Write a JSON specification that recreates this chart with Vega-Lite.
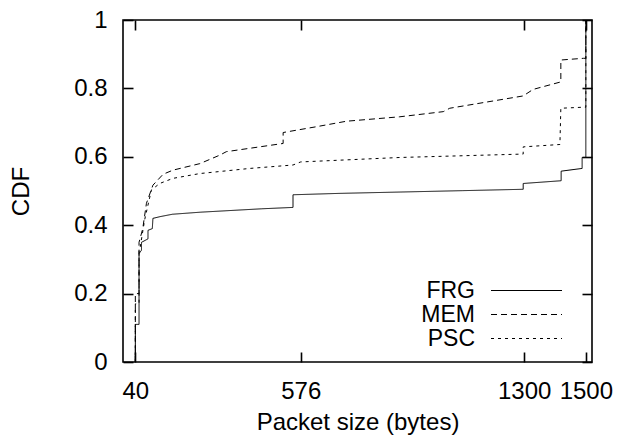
{
  "$schema": "https://vega.github.io/schema/vega-lite/v6.json",
  "width": 469,
  "height": 342,
  "autosize": "none",
  "padding": {"left": 123, "top": 20, "right": 26, "bottom": 74},
  "background": "white",
  "config": {
    "font": "Liberation Sans",
    "view": {"stroke": "#000", "strokeWidth": 1.6},
    "axis": {"domain": false, "grid": false, "tickColor": "#000", "tickWidth": 1.6, "tickSize": -10, "labelColor": "#000", "titleColor": "#000", "labelFontSize": 24, "titleFontSize": 24, "titleFontWeight": "normal", "labelFont": "Liberation Sans", "titleFont": "Liberation Sans"}
  },
  "data": {"values": [
    {"s":"FRG","i":1,"x":40,"y":0},{"s":"FRG","i":2,"x":40,"y":0.11},{"s":"FRG","i":3,"x":52,"y":0.11},{"s":"FRG","i":4,"x":52,"y":0.317},{"s":"FRG","i":5,"x":60,"y":0.327},{"s":"FRG","i":6,"x":60,"y":0.35},{"s":"FRG","i":7,"x":81,"y":0.36},{"s":"FRG","i":8,"x":81,"y":0.385},{"s":"FRG","i":9,"x":95,"y":0.39},{"s":"FRG","i":10,"x":97,"y":0.42},{"s":"FRG","i":11,"x":120,"y":0.425},{"s":"FRG","i":12,"x":160,"y":0.432},{"s":"FRG","i":13,"x":250,"y":0.438},{"s":"FRG","i":14,"x":350,"y":0.443},{"s":"FRG","i":15,"x":450,"y":0.448},{"s":"FRG","i":16,"x":551,"y":0.452},{"s":"FRG","i":17,"x":551,"y":0.489},{"s":"FRG","i":18,"x":700,"y":0.493},{"s":"FRG","i":19,"x":900,"y":0.497},{"s":"FRG","i":20,"x":1100,"y":0.501},{"s":"FRG","i":21,"x":1297,"y":0.505},{"s":"FRG","i":22,"x":1297,"y":0.522},{"s":"FRG","i":23,"x":1420,"y":0.53},{"s":"FRG","i":24,"x":1420,"y":0.558},{"s":"FRG","i":25,"x":1488,"y":0.566},{"s":"FRG","i":26,"x":1488,"y":0.598},{"s":"FRG","i":27,"x":1500,"y":0.598},{"s":"FRG","i":28,"x":1500,"y":1.0},
    {"s":"MEM","i":1,"x":40,"y":0},{"s":"MEM","i":2,"x":40,"y":0.2},{"s":"MEM","i":3,"x":52,"y":0.2},{"s":"MEM","i":4,"x":52,"y":0.35},{"s":"MEM","i":5,"x":64,"y":0.39},{"s":"MEM","i":6,"x":76,"y":0.464},{"s":"MEM","i":7,"x":97,"y":0.517},{"s":"MEM","i":8,"x":130,"y":0.549},{"s":"MEM","i":9,"x":162,"y":0.561},{"s":"MEM","i":10,"x":249,"y":0.58},{"s":"MEM","i":11,"x":314,"y":0.605},{"s":"MEM","i":12,"x":335,"y":0.615},{"s":"MEM","i":13,"x":519,"y":0.639},{"s":"MEM","i":14,"x":519,"y":0.671},{"s":"MEM","i":15,"x":627,"y":0.688},{"s":"MEM","i":16,"x":724,"y":0.704},{"s":"MEM","i":17,"x":897,"y":0.717},{"s":"MEM","i":18,"x":1038,"y":0.732},{"s":"MEM","i":19,"x":1059,"y":0.742},{"s":"MEM","i":20,"x":1297,"y":0.778},{"s":"MEM","i":21,"x":1329,"y":0.797},{"s":"MEM","i":22,"x":1419,"y":0.819},{"s":"MEM","i":23,"x":1419,"y":0.883},{"s":"MEM","i":24,"x":1492,"y":0.888},{"s":"MEM","i":25,"x":1500,"y":0.888},{"s":"MEM","i":26,"x":1500,"y":1.0},
    {"s":"PSC","i":1,"x":40,"y":0},{"s":"PSC","i":2,"x":40,"y":0.17},{"s":"PSC","i":3,"x":52,"y":0.17},{"s":"PSC","i":4,"x":52,"y":0.33},{"s":"PSC","i":5,"x":56,"y":0.337},{"s":"PSC","i":6,"x":70,"y":0.415},{"s":"PSC","i":7,"x":92,"y":0.503},{"s":"PSC","i":8,"x":119,"y":0.522},{"s":"PSC","i":9,"x":162,"y":0.537},{"s":"PSC","i":10,"x":249,"y":0.551},{"s":"PSC","i":11,"x":411,"y":0.566},{"s":"PSC","i":12,"x":551,"y":0.576},{"s":"PSC","i":13,"x":576,"y":0.585},{"s":"PSC","i":14,"x":897,"y":0.598},{"s":"PSC","i":15,"x":1297,"y":0.608},{"s":"PSC","i":16,"x":1297,"y":0.629},{"s":"PSC","i":17,"x":1416,"y":0.636},{"s":"PSC","i":18,"x":1419,"y":0.742},{"s":"PSC","i":19,"x":1492,"y":0.745},{"s":"PSC","i":20,"x":1500,"y":0.745},{"s":"PSC","i":21,"x":1500,"y":1.0}
  ]},
  "layer": [
    {
      "mark": {"type": "line", "color": "#000", "strokeWidth": 1, "clip": true},
      "encoding": {
        "x": {"field": "x", "type": "quantitative", "scale": {"domain": [0, 1520], "nice": false, "zero": false},
              "axis": {"values": [40, 576, 1300, 1500], "format": "d", "title": "Packet size (bytes)", "labelPadding": 27, "titlePadding": 7, "labelFlush": false}},
        "y": {"field": "y", "type": "quantitative", "scale": {"domain": [0, 1], "nice": false},
              "axis": {"values": [0, 0.2, 0.4, 0.6, 0.8, 1], "format": "~f", "title": "CDF", "labelPadding": 26, "titlePadding": 40, "labelFlush": false}},
        "order": {"field": "i", "type": "quantitative"},
        "strokeDash": {"field": "s", "type": "nominal", "title": null,
          "scale": {"domain": ["FRG", "MEM", "PSC"], "range": [[1, 0], [6, 4], [3, 4]]},
          "legend": {"orient": "none", "legendX": 392, "legendY": 259, "symbolType": "M-7.1,0H7.1", "symbolSize": 100, "symbolStrokeWidth": 1, "symbolStrokeColor": "#000", "labelAlign": "right", "labelOffset": -63, "labelFontSize": 23, "labelFont": "Liberation Sans", "labelColor": "#000", "rowPadding": 0, "padding": 0}
        }
      }
    },
    {
      "mark": {"type": "line", "opacity": 0},
      "encoding": {
        "x": {"field": "x", "type": "quantitative", "axis": {"orient": "top", "values": [40, 576, 1300, 1500], "labels": false, "title": null}},
        "y": {"field": "y", "type": "quantitative", "axis": {"orient": "right", "values": [0, 0.2, 0.4, 0.6, 0.8, 1], "labels": false, "title": null}},
        "detail": {"field": "s", "type": "nominal"},
        "order": {"field": "i", "type": "quantitative"}
      }
    }
  ],
  "resolve": {"axis": {"x": "independent", "y": "independent"}}
}
